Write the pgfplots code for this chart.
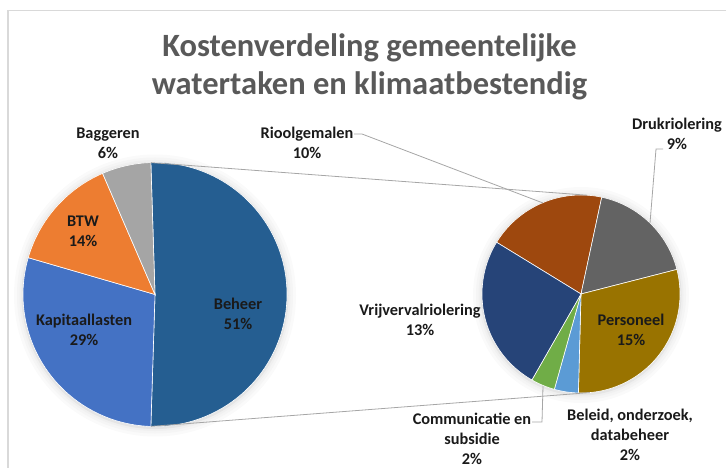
\documentclass[border=0pt]{standalone}
\usepackage{pgfplots}
\pgfplotsset{compat=1.18}
\usepackage{fontspec}
\setmainfont{Carlito}
\definecolor{cBeheer}{HTML}{255E91}
\definecolor{cKap}{HTML}{4472C4}
\definecolor{cBTW}{HTML}{ED7D31}
\definecolor{cBag}{HTML}{A5A5A5}
\definecolor{cRiool}{HTML}{9E480E}
\definecolor{cDruk}{HTML}{636363}
\definecolor{cPers}{HTML}{997300}
\definecolor{cBel}{HTML}{5B9BD5}
\definecolor{cCom}{HTML}{70AD47}
\definecolor{cVrij}{HTML}{264478}
\definecolor{ctitle}{HTML}{595959}
\definecolor{clab}{HTML}{1A1A1A}
\definecolor{cline}{HTML}{A6A6A6}
% sector: cx, cy, r, start angle, delta angle, colour
\newcommand{\sector}[6]{\fill[#6, draw=white, line width=0.6pt] (axis cs:#1,#2) -- ++(#4:#3pt) arc[start angle=#4, delta angle=#5, radius=#3pt] -- cycle;}
\newcommand{\pieshadow}[3]{%
\fill[black!2] (axis cs:#1,#2-1) circle[radius=#3pt+9pt];
\fill[black!4] (axis cs:#1,#2-1) circle[radius=#3pt+6pt];
\fill[black!6] (axis cs:#1,#2-1) circle[radius=#3pt+3.5pt];
\fill[black!10] (axis cs:#1,#2-1) circle[radius=#3pt+1.5pt];}
\begin{document}
\begin{tikzpicture}
\begin{axis}[width=727pt, height=468pt, scale only axis,
  xmin=0, xmax=727, ymin=0, ymax=468, hide axis, clip=false]
\path (axis cs:0,0) (axis cs:727,468);
% frame
\draw[black!15, line width=1.5pt] (axis cs:726,457.5) -- (axis cs:8,457.5) -- (axis cs:8,0);
% title
\node[font=\fontsize{32.5}{38}\selectfont\bfseries, text=ctitle, align=center] at (axis cs:369.5,401)
  {Kostenverdeling gemeentelijke\\watertaken en klimaatbestendig};
% shadows
\pieshadow{155}{173.5}{132}
\pieshadow{581}{174}{99}
% main pie (percent of total): Beheer 51, Kapitaallasten 29, BTW 14, Baggeren 6
\sector{155}{173.5}{132}{91.8}{-51*3.6}{cBeheer}
\sector{155}{173.5}{132}{-91.8}{-29*3.6}{cKap}
\sector{155}{173.5}{132}{-196.2}{-14*3.6}{cBTW}
\sector{155}{173.5}{132}{-246.6}{-6*3.6}{cBag}
% secondary pie (split of Beheer = 51): 10, 9, 15, 2, 2, 13
\sector{581}{174}{99}{148.5}{-10*360/51}{cRiool}
\sector{581}{174}{99}{77.91}{-9*360/51}{cDruk}
\sector{581}{174}{99}{14.38}{-15*360/51}{cPers}
\sector{581}{174}{99}{-91.50}{-2*360/51}{cBel}
\sector{581}{174}{99}{-105.62}{-2*360/51}{cCom}
\sector{581}{174}{99}{-119.74}{-13*360/51}{cVrij}
% connector lines
\draw[cline, line width=0.8pt] (axis cs:150.9,305.4) -- (axis cs:587,272.8);
\draw[cline, line width=0.8pt] (axis cs:150.9,41.6) -- (axis cs:589.6,75.4);
% leader lines
\draw[cline, line width=0.8pt] (axis cs:354,334) -- (axis cs:362,334) -- (axis cs:543,265);
\draw[cline, line width=0.8pt] (axis cs:663,319) -- (axis cs:656,319) -- (axis cs:650,245);
\draw[cline, line width=0.8pt] (axis cs:532,46) -- (axis cs:542,46) -- (axis cs:543,82);
% labels
\tikzset{lab/.style={font=\fontsize{16.3}{20}\selectfont\bfseries, text=clab, align=center, inner sep=0pt}}
\node[lab] at (axis cs:108,325) {Baggeren\\6\%};
\node[lab] at (axis cs:83,237) {BTW\\14\%};
\node[lab] at (axis cs:84,138) {Kapitaallasten\\29\%};
\node[lab] at (axis cs:238,154) {Beheer\\51\%};
\node[lab] at (axis cs:307,325) {Rioolgemalen\\10\%};
\node[lab] at (axis cs:677,334.5) {Drukriolering\\9\%};
\node[lab] at (axis cs:420,148) {Vrijvervalriolering\\13\%};
\node[lab] at (axis cs:631,138) {Personeel\\15\%};
\node[lab] at (axis cs:472,29) {Communicatie en\\subsidie\\2\%};
\node[lab] at (axis cs:630,33) {Beleid, onderzoek,\\databeheer\\2\%};
\end{axis}
\end{tikzpicture}
\end{document}
